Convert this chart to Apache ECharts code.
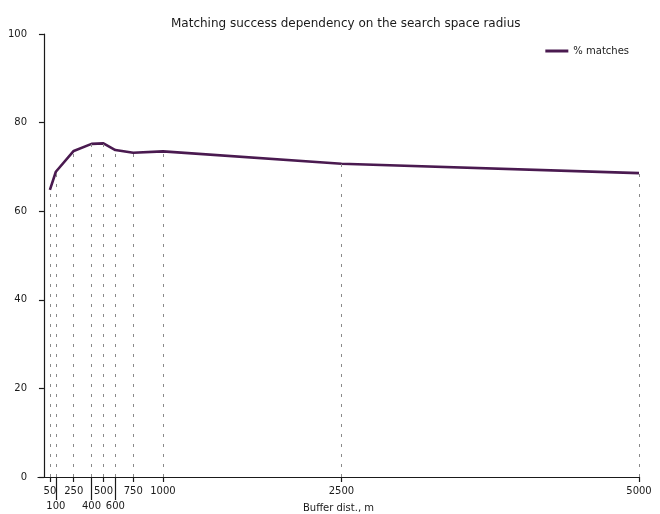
<!DOCTYPE html>
<html>
<head>
<meta charset="utf-8">
<script src="https://cdn.jsdelivr.net/npm/echarts@6/dist/echarts.min.js"></script>
<style>
  html, body { margin: 0; padding: 0; background: #fff; }
  #chart { width: 660px; height: 514px; }
</style>
</head>
<body>
<div id="chart"></div>
<script>
// buffer distances (m) and matching success (%)
const distances = [50, 100, 250, 400, 500, 600, 750, 1000, 2500, 5000]
const matches = [64.8, 68.9, 73.6, 75.2, 75.3, 73.8, 73.2, 73.5, 70.7, 68.6]
// x ticks: upper row and lower row
const ticksTop = [50, 250, 500, 750, 1000, 2500, 5000]
const ticksBottom = [100, 400, 600]

const font = 'DejaVu Sans'
const ink = '#1a1a1a'
const lineColor = '#4a1a50'

const chart = echarts.init(document.getElementById('chart'))

const points = distances.map((d, i) => [d, matches[i]])

// dashed guides from each point down to the x axis
const guides = points.map(p => [{ coord: [p[0], 0] }, { coord: [p[0], p[1]] }])

const plain = v => String(v)

chart.setOption({
  animation: false,
  textStyle: { fontFamily: font },
  title: {
    text: 'Matching success dependency on the search space radius',
    left: 166,
    top: 13,
    textStyle: { fontFamily: font, fontSize: 12, fontWeight: 'normal', color: ink }
  },
  legend: {
    right: 26,
    top: 41,
    icon: 'rect',
    itemWidth: 23,
    itemHeight: 3,
    itemGap: 6,
    textStyle: { fontFamily: font, fontSize: 10, color: ink },
    data: ['% matches']
  },
  grid: { left: 38, right: 21, top: 34, bottom: 37, outerBoundsMode: 'none', containLabel: false },
  xAxis: [
    {
      type: 'value',
      min: -50,
      max: 5000,
      name: 'Buffer dist., m',
      nameLocation: 'middle',
      nameGap: 26,
      nameTextStyle: { fontFamily: font, fontSize: 10, color: ink },
      splitLine: { show: false },
      axisLine: { onZero: false, lineStyle: { color: ink, width: 1.2 } },
      axisTick: { customValues: ticksTop, length: 5, lineStyle: { color: ink, width: 1.2 } },
      axisLabel: { customValues: ticksTop, margin: 9, fontSize: 10, color: ink, fontFamily: font, formatter: plain }
    },
    {
      type: 'value',
      min: -50,
      max: 5000,
      position: 'bottom',
      splitLine: { show: false },
      axisLine: { show: false, onZero: false },
      axisTick: { customValues: ticksBottom, length: 23, lineStyle: { color: ink, width: 1.2 } },
      axisLabel: { customValues: ticksBottom, margin: 24, fontSize: 10, color: ink, fontFamily: font, formatter: plain }
    }
  ],
  yAxis: {
    type: 'value',
    min: 0,
    max: 100,
    interval: 20,
    splitLine: { show: false },
    axisLine: { show: true, onZero: true, lineStyle: { color: ink, width: 1.2 } },
    axisTick: { show: true, length: 5, lineStyle: { color: ink, width: 1.2 } },
    axisLabel: { fontSize: 10, color: ink, fontFamily: font, margin: 11 }
  },
  series: [
    {
      name: '% matches',
      type: 'line',
      data: points,
      symbol: 'none',
      color: lineColor,
      lineStyle: { color: lineColor, width: 2.6 },
      markLine: {
        silent: true,
        symbol: 'none',
        label: { show: false },
        lineStyle: { color: '#8a8a8a', type: [3, 7], width: 1 },
        data: guides
      }
    }
  ]
})
</script>
</body>
</html>
